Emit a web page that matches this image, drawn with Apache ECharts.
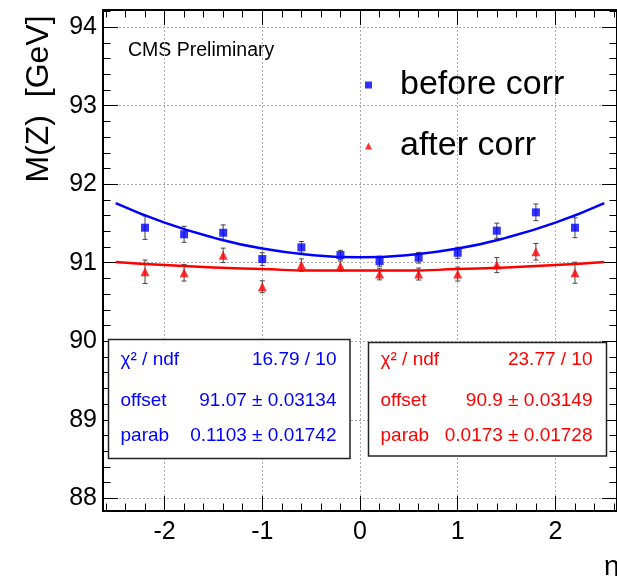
<!DOCTYPE html>
<html><head><meta charset="utf-8">
<script src="https://cdn.jsdelivr.net/npm/echarts@6/dist/echarts.min.js"></script>
<style>html,body{margin:0;padding:0;background:#fff}#c{width:617px;height:576px}</style>
</head><body><div id="c"></div>
<script>
// ---- data ----
const etaBins   = [-2.2, -1.8, -1.4, -1.0, -0.6, -0.2, 0.2, 0.6, 1.0, 1.4, 1.8, 2.2];
const beforeMass = [91.446, 91.362, 91.382, 91.047, 91.196, 91.098, 91.020, 91.064, 91.127, 91.408, 91.642, 91.446];
const beforeErr  = [0.149, 0.102, 0.100, 0.081, 0.074, 0.060, 0.064, 0.068, 0.070, 0.096, 0.106, 0.127];
const afterMass  = [90.885, 90.873, 91.094, 90.694, 90.970, 90.958, 90.856, 90.856, 90.856, 90.970, 91.140, 90.873];
const afterErr   = [0.149, 0.106, 0.092, 0.076, 0.079, 0.064, 0.074, 0.076, 0.089, 0.096, 0.106, 0.134];
const fitEta     = [-2.5, -2.0, -1.5, -1.0, -0.5, 0.0, 0.5, 1.0, 1.5, 2.0, 2.5];
const beforeFit  = [91.76, 91.51, 91.32, 91.18, 91.10, 91.07, 91.10, 91.18, 91.32, 91.51, 91.76];
const afterFit   = [91.01, 90.97, 90.94, 90.92, 90.90, 90.90, 90.90, 90.92, 90.94, 90.97, 91.01];
const xRange = [-2.63, 2.63];
const yRange = [87.838, 94.219];
const beforeStats = [['χ² / ndf', '16.79 / 10'], ['offset', '91.07 ± 0.03134'], ['parab', '0.1103 ± 0.01742']];
const afterStats  = [['χ² / ndf', '23.77 / 10'], ['offset', '90.9 ± 0.03149'], ['parab', '0.0173 ± 0.01728']];

const FONT = '"Liberation Sans", Arial, Helvetica, sans-serif';
const BLUE = '#0000ff', RED = '#ff0000';

const zip = (xs, ys) => xs.map((x, i) => [x, ys[i]]);
const errData = (vals, errs) => etaBins.map((x, i) => [x, vals[i] - errs[i], vals[i] + errs[i]]);

function errRender(params, api) {
  const lo = api.coord([api.value(0), api.value(1)]);
  const hi = api.coord([api.value(0), api.value(2)]);
  const cap = 2.5;
  const st = { stroke: '#444', lineWidth: 1 };
  return { type: 'group', children: [
    { type: 'line', shape: { x1: lo[0], y1: lo[1], x2: hi[0], y2: hi[1] }, style: st },
    { type: 'line', shape: { x1: lo[0] - cap, y1: lo[1], x2: lo[0] + cap, y2: lo[1] }, style: st },
    { type: 'line', shape: { x1: hi[0] - cap, y1: hi[1], x2: hi[0] + cap, y2: hi[1] }, style: st }
  ]};
}

function axisCommon(showLabel, showSplit, margin) {
  return {
    axisLine: { show: true, onZero: false, lineStyle: { color: '#000', width: 2 } },
    axisTick: { show: true, inside: true, length: 15, lineStyle: { color: '#000', width: 1 } },
    minorTick: { show: true, splitNumber: 5, length: 7.5, lineStyle: { color: '#000', width: 1 } },
    splitLine: { show: showSplit, lineStyle: { color: '#aaa', type: [2, 2], width: 1 } },
    minorSplitLine: { show: false },
    axisLabel: { show: showLabel, color: '#000', fontSize: 25, fontFamily: FONT, margin: margin,
                 showMinLabel: false, showMaxLabel: false }
  };
}

function statsBox(x, y, w, h, rows, color, rightX) {
  const rowY = [360, 401, 436];
  const children = [{ type: 'rect', shape: { x: x, y: y, width: w, height: h },
    style: { fill: '#fff', stroke: '#222', lineWidth: 1.5 }, z: 10 }];
  rows.forEach((r, i) => {
    children.push({ type: 'text', z: 11, style: { text: r[0], x: x + 12, y: rowY[i], fill: color,
      fontSize: 19, fontFamily: FONT, align: 'left', verticalAlign: 'middle' } });
    children.push({ type: 'text', z: 11, style: { text: r[1], x: rightX, y: rowY[i], fill: color,
      fontSize: 19, fontFamily: FONT, align: 'right', verticalAlign: 'middle' } });
  });
  return children;
}

const chart = echarts.init(document.getElementById('c'), null, { renderer: 'canvas' });
chart.setOption({
  backgroundColor: '#fff',
  animation: false,
  grid: { left: 103, top: 10, width: 515, height: 501, containLabel: false },
  xAxis: [
    Object.assign({ type: 'value', min: xRange[0], max: xRange[1], splitNumber: 5, position: 'bottom' }, axisCommon(true, true, 9)),
    Object.assign({ type: 'value', min: xRange[0], max: xRange[1], splitNumber: 5, position: 'top' }, axisCommon(false, false, 6))
  ],
  yAxis: [
    Object.assign({ type: 'value', min: yRange[0], max: yRange[1], splitNumber: 6, position: 'left' }, axisCommon(true, true, 6)),
    Object.assign({ type: 'value', min: yRange[0], max: yRange[1], splitNumber: 6, position: 'right' }, axisCommon(false, false, 6))
  ],
  legend: [
    { data: [{ name: 'before corr', icon: 'rect' }], left: 365, top: 65, padding: 0, itemWidth: 7, itemHeight: 7,
      selectedMode: false,
      textStyle: { fontSize: 34, fontFamily: FONT, color: '#000', lineHeight: 40, padding: [0, 0, 0, 23] } },
    { data: [{ name: 'after corr', icon: 'triangle' }], left: 365, top: 126, padding: 0, itemWidth: 7, itemHeight: 7,
      selectedMode: false,
      textStyle: { fontSize: 34, fontFamily: FONT, color: '#000', lineHeight: 40, padding: [0, 0, 0, 23] } }
  ],
  series: [
    { type: 'custom', name: 'before err', renderItem: errRender, data: errData(beforeMass, beforeErr), z: 2, silent: true },
    { type: 'custom', name: 'after err', renderItem: errRender, data: errData(afterMass, afterErr), z: 2, silent: true },
    { type: 'line', name: 'before fit', data: zip(fitEta, beforeFit), smooth: true, showSymbol: false,
      lineStyle: { color: BLUE, width: 2.5 }, z: 3 },
    { type: 'line', name: 'after fit', data: zip(fitEta, afterFit), smooth: true, showSymbol: false,
      lineStyle: { color: RED, width: 2.5 }, z: 3 },
    { type: 'scatter', name: 'before corr', data: zip(etaBins, beforeMass), symbol: 'rect', symbolSize: 8,
      itemStyle: { color: BLUE }, z: 4 },
    { type: 'scatter', name: 'after corr', data: zip(etaBins, afterMass), symbol: 'triangle', symbolSize: 9,
      itemStyle: { color: RED }, z: 4 }
  ],
  graphic: [
    { type: 'text', style: { text: 'M(Z)  [GeV]', x: 0, y: 0, fill: '#000', fontSize: 32, fontFamily: FONT,
      align: 'center', verticalAlign: 'middle' }, x: 39, y: 99, rotation: Math.PI / 2 },
    { type: 'text', style: { text: 'η', x: 604, y: 567, fill: '#000', fontSize: 28, fontFamily: FONT,
      align: 'left', verticalAlign: 'middle' } },
    { type: 'text', style: { text: 'CMS Preliminary', x: 128, y: 51, fill: '#000', fontSize: 19.5, fontFamily: FONT,
      align: 'left', verticalAlign: 'middle' } },
    { type: 'group', children: statsBox(108.5, 339.5, 241.5, 119, beforeStats, BLUE, 336.5) },
    { type: 'group', children: statsBox(368.5, 342.5, 238, 113.5, afterStats, RED, 592.5) }
  ]
});
</script></body></html>
